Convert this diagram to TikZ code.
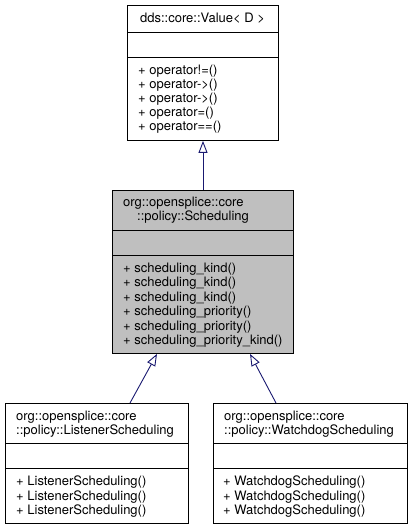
\documentclass[tikz,border=0pt]{standalone}
\usepackage{fontspec}
\setmainfont{TeX Gyre Heros}
\usetikzlibrary{arrows.meta,calc}
\definecolor{edgeblue}{HTML}{191970}
\definecolor{boxgray}{HTML}{BFBFBF}
\tikzset{
  classbox/.style={draw=black, line width=0.9pt, inner sep=0pt, anchor=north west},
  sepline/.style={draw=black, line width=0.9pt},
  txt/.style={anchor=base west, inner sep=0pt, font=\fontsize{13}{14}\selectfont},
  ctxt/.style={anchor=base, inner sep=0pt, font=\fontsize{13}{14}\selectfont},
  inherit/.style={draw=edgeblue, line width=0.9pt, -{Triangle[open, length=12pt, width=9pt, line width=0.9pt]}}
}
\begin{document}
\begin{tikzpicture}[x=1pt, y=-1pt]
\useasboundingbox (0,0) rectangle (413,529);
% ---- top box
\node[classbox, minimum width=151pt, minimum height=135pt] (val) at (127,5) {};
\draw[sepline] (127,32) -- (278,32);
\draw[sepline] (127,57) -- (278,57);
\node[ctxt] (valt) at (202.5,22.5) {dds::core::Value< D >};
\node[txt] (v1) at (138,74.5) {+ operator!=()};
\node[txt] (v2) at (138,88.5) {+ operator->()};
\node[txt] (v3) at (138,102.5) {+ operator->()};
\node[txt] (v4) at (138,116.5) {+ operator=()};
\node[txt] (v5) at (138,130.5) {+ operator==()};
% ---- middle box
\node[classbox, fill=boxgray, minimum width=181pt, minimum height=163pt] (sch) at (112,190) {};
\draw[sepline] (112,230) -- (293,230);
\draw[sepline] (112,255) -- (293,255);
\node[txt] (st1) at (123,206) {org::opensplice::core};
\node[txt] (st2) at (137,220.5) {::policy::Scheduling};
\node[txt] (s1) at (123,272) {+ scheduling\_kind()};
\node[txt] (s2) at (123,286.5) {+ scheduling\_kind()};
\node[txt] (s3) at (123,301) {+ scheduling\_kind()};
\node[txt] (s4) at (123,315.5) {+ scheduling\_priority()};
\node[txt] (s5) at (123,330) {+ scheduling\_priority()};
\node[txt] (s6) at (123,344.5) {+ scheduling\_priority\_kind()};
% ---- bottom left
\node[classbox, minimum width=183pt, minimum height=120pt] (lis) at (5,403) {};
\draw[sepline] (5,443) -- (188,443);
\draw[sepline] (5,468) -- (188,468);
\node[txt] (lt1) at (16,420) {org::opensplice::core};
\node[txt] (lt2) at (16,434.5) {::policy::ListenerScheduling};
\node[txt] (l1) at (16,485.5) {+ ListenerScheduling()};
\node[txt] (l2) at (16,500) {+ ListenerScheduling()};
\node[txt] (l3) at (16,514.5) {+ ListenerScheduling()};
% ---- bottom right
\node[classbox, minimum width=194pt, minimum height=120pt] (wd) at (213,403) {};
\draw[sepline] (213,443) -- (407,443);
\draw[sepline] (213,468) -- (407,468);
\node[txt] (wt1) at (224,420) {org::opensplice::core};
\node[txt] (wt2) at (224,434.5) {::policy::WatchdogScheduling};
\node[txt] (w1) at (223,485.5) {+ WatchdogScheduling()};
\node[txt] (w2) at (223,500) {+ WatchdogScheduling()};
\node[txt] (w3) at (223,514.5) {+ WatchdogScheduling()};
% ---- connectors
\coordinate (schTop) at ($(sch.north west)+(91,0)$);
\coordinate (valBot) at ($(val.south west)+(76,0)$);
\coordinate (lisTop) at ($(lis.north west)+(125,0)$);
\coordinate (schBotL) at ($(sch.south west)+(45,0)$);
\coordinate (wdTop) at ($(wd.north west)+(63,0)$);
\coordinate (schBotR) at ($(sch.south west)+(138,0)$);
\draw[inherit] (schTop) -- (valBot);
\draw[inherit] (lisTop) -- (schBotL);
\draw[inherit] (wdTop) -- (schBotR);
\end{tikzpicture}
\end{document}
